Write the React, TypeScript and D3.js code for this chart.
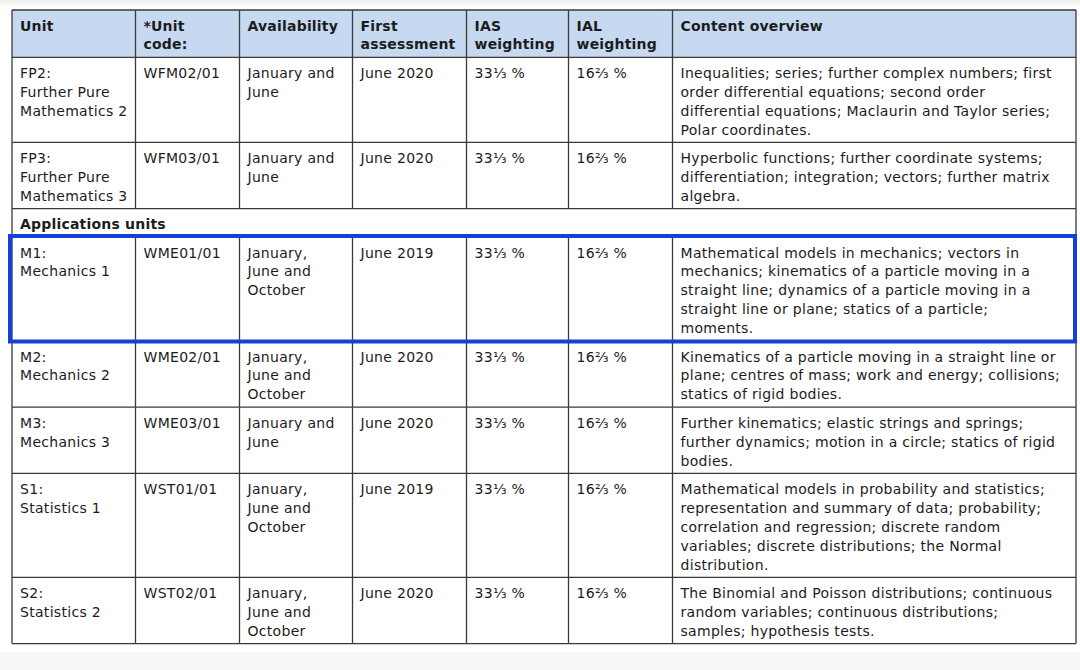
import React from "react";
import * as d3 from "d3";

// ---------- data ----------
const headers: string[][] = [
  ["Unit"],
  ["*Unit", "code:"],
  ["Availability"],
  ["First", "assessment"],
  ["IAS", "weighting"],
  ["IAL", "weighting"],
  ["Content overview"],
];

const units: string[][] = [
  ["FP2:", "Further Pure", "Mathematics 2"],
  ["FP3:", "Further Pure", "Mathematics 3"],
  ["M1:", "Mechanics 1"],
  ["M2:", "Mechanics 2"],
  ["M3:", "Mechanics 3"],
  ["S1:", "Statistics 1"],
  ["S2:", "Statistics 2"],
];

const unitCodes: string[] = ["WFM02/01", "WFM03/01", "WME01/01", "WME02/01", "WME03/01", "WST01/01", "WST02/01"];

const availability: string[][] = [
  ["January and", "June"],
  ["January and", "June"],
  ["January,", "June and", "October"],
  ["January,", "June and", "October"],
  ["January and", "June"],
  ["January,", "June and", "October"],
  ["January,", "June and", "October"],
];

const firstAssessment: string[] = ["June 2020", "June 2020", "June 2019", "June 2020", "June 2020", "June 2019", "June 2020"];

const iasWeighting: string[] = ["33⅓ %", "33⅓ %", "33⅓ %", "33⅓ %", "33⅓ %", "33⅓ %", "33⅓ %"];
const ialWeighting: string[] = ["16⅔ %", "16⅔ %", "16⅔ %", "16⅔ %", "16⅔ %", "16⅔ %", "16⅔ %"];

const contentOverview: string[][] = [
  [
    "Inequalities; series; further complex numbers; first",
    "order differential equations; second order",
    "differential equations; Maclaurin and Taylor series;",
    "Polar coordinates.",
  ],
  [
    "Hyperbolic functions; further coordinate systems;",
    "differentiation; integration; vectors; further matrix",
    "algebra.",
  ],
  [
    "Mathematical models in mechanics; vectors in",
    "mechanics; kinematics of a particle moving in a",
    "straight line; dynamics of a particle moving in a",
    "straight line or plane; statics of a particle;",
    "moments.",
  ],
  [
    "Kinematics of a particle moving in a straight line or",
    "plane; centres of mass; work and energy; collisions;",
    "statics of rigid bodies.",
  ],
  [
    "Further kinematics; elastic strings and springs;",
    "further dynamics; motion in a circle; statics of rigid",
    "bodies.",
  ],
  [
    "Mathematical models in probability and statistics;",
    "representation and summary of data; probability;",
    "correlation and regression; discrete random",
    "variables; discrete distributions; the Normal",
    "distribution.",
  ],
  [
    "The Binomial and Poisson distributions; continuous",
    "random variables; continuous distributions;",
    "samples; hypothesis tests.",
  ],
];

const sectionTitle = "Applications units";
const sectionAfterIndex = 1;
const highlightedUnit = 2;

// ---------- layout ----------
const W = 1080;
const H = 670;
const colEdges = [12, 135.5, 239.5, 352.5, 466.5, 568.5, 672.5, 1076];
const tableTop = 10;
const lineH = 18.9;
const pad = 9.5;
const firstBase = 20.5;
const textPadX = 8;
const FONT = "'DejaVu Sans', Verdana, sans-serif";
const FS = 14;
const TEXT = "#1c1c1c";
const BORDER = "#3a3a3a";
const HEAD_FILL = "#c6d9f0";
const BLUE = "#1440d8";

type Row =
  | { kind: "header"; cells: string[][] }
  | { kind: "section"; title: string }
  | { kind: "unit"; idx: number; cells: string[][] };

export default function App() {
  const rows: Row[] = [{ kind: "header", cells: headers }];
  units.forEach((u, i) => {
    rows.push({
      kind: "unit",
      idx: i,
      cells: [u, [unitCodes[i]], availability[i], [firstAssessment[i]], [iasWeighting[i]], [ialWeighting[i]], contentOverview[i]],
    });
    if (i === sectionAfterIndex) rows.push({ kind: "section", title: sectionTitle });
  });

  const nLines = rows.map((r) =>
    r.kind === "section" ? 1 : (d3.max(r.cells, (c) => c.length) as number)
  );
  const heights = nLines.map((n) => n * lineH + pad);
  const tops = [tableTop, ...Array.from(d3.cumsum(heights)).map((h) => tableTop + h)];
  const tableBottom = tops[tops.length - 1];

  const x = d3.scaleOrdinal<number, number>().domain(d3.range(colEdges.length)).range(colEdges);

  const elements: React.ReactNode[] = [];

  rows.forEach((r, ri) => {
    const top = tops[ri];
    const h = heights[ri];
    if (r.kind === "header") {
      elements.push(
        <rect key={`hf`} x={x(0)} y={top} width={x(7) - x(0)} height={h} fill={HEAD_FILL} />
      );
    }
    if (r.kind === "section") {
      elements.push(
        <text key={`sec`} x={x(0) + textPadX} y={top + firstBase} fontWeight="bold" fontSize={FS} fontFamily={FONT} fill={TEXT} letterSpacing={0.2}>
          {r.title}
        </text>
      );
    } else {
      const bold = r.kind === "header";
      r.cells.forEach((lines, ci) => {
        lines.forEach((ln, li) => {
          elements.push(
            <text
              key={`t-${ri}-${ci}-${li}`}
              x={x(ci) + textPadX}
              y={top + firstBase + li * lineH}
              fontSize={FS}
              fontFamily={FONT}
              fontWeight={bold ? "bold" : "normal"}
              letterSpacing={bold ? 0.2 : 0.3}
              fill={TEXT}
            >
              {ln}
            </text>
          );
        });
      });
    }
  });

  // horizontal lines
  tops.forEach((t, i) => {
    elements.push(
      <line key={`h-${i}`} x1={x(0)} x2={x(7)} y1={t} y2={t} stroke={BORDER} strokeWidth={1.3} />
    );
  });
  // vertical lines
  colEdges.forEach((cx, ci) => {
    if (ci === 0 || ci === colEdges.length - 1) {
      elements.push(
        <line key={`v-${ci}`} x1={cx} x2={cx} y1={tableTop} y2={tableBottom} stroke={BORDER} strokeWidth={1.3} />
      );
    } else {
      rows.forEach((r, ri) => {
        if (r.kind === "section") return;
        elements.push(
          <line key={`v-${ci}-${ri}`} x1={cx} x2={cx} y1={tops[ri]} y2={tops[ri + 1]} stroke={BORDER} strokeWidth={1.3} />
        );
      });
    }
  });

  // highlight box
  const hiRow = rows.findIndex((r) => r.kind === "unit" && r.idx === highlightedUnit);
  elements.push(
    <rect
      key="hi"
      x={10}
      y={tops[hiRow] - 1}
      width={1065}
      height={heights[hiRow] + 1.5}
      fill="none"
      stroke={BLUE}
      strokeWidth={4}
    />
  );

  return (
    <div style={{ position: "fixed", left: 0, top: 0, width: W, height: H, background: "#fff" }}>
      <svg width={W} height={H} style={{ display: "block" }}>
        <defs>
          <linearGradient id="topfade" x1="0" y1="0" x2="0" y2="1">
            <stop offset="0" stopColor="#eeeeee" />
            <stop offset="1" stopColor="#ffffff" />
          </linearGradient>
        </defs>
        <rect x={0} y={0} width={W} height={H} fill="#fff" />
        <rect x={0} y={0} width={W} height={8} fill="url(#topfade)" />
        <rect x={0} y={652} width={W} height={H - 652} fill="#f8f8f8" />
        {elements}
      </svg>
    </div>
  );
}
